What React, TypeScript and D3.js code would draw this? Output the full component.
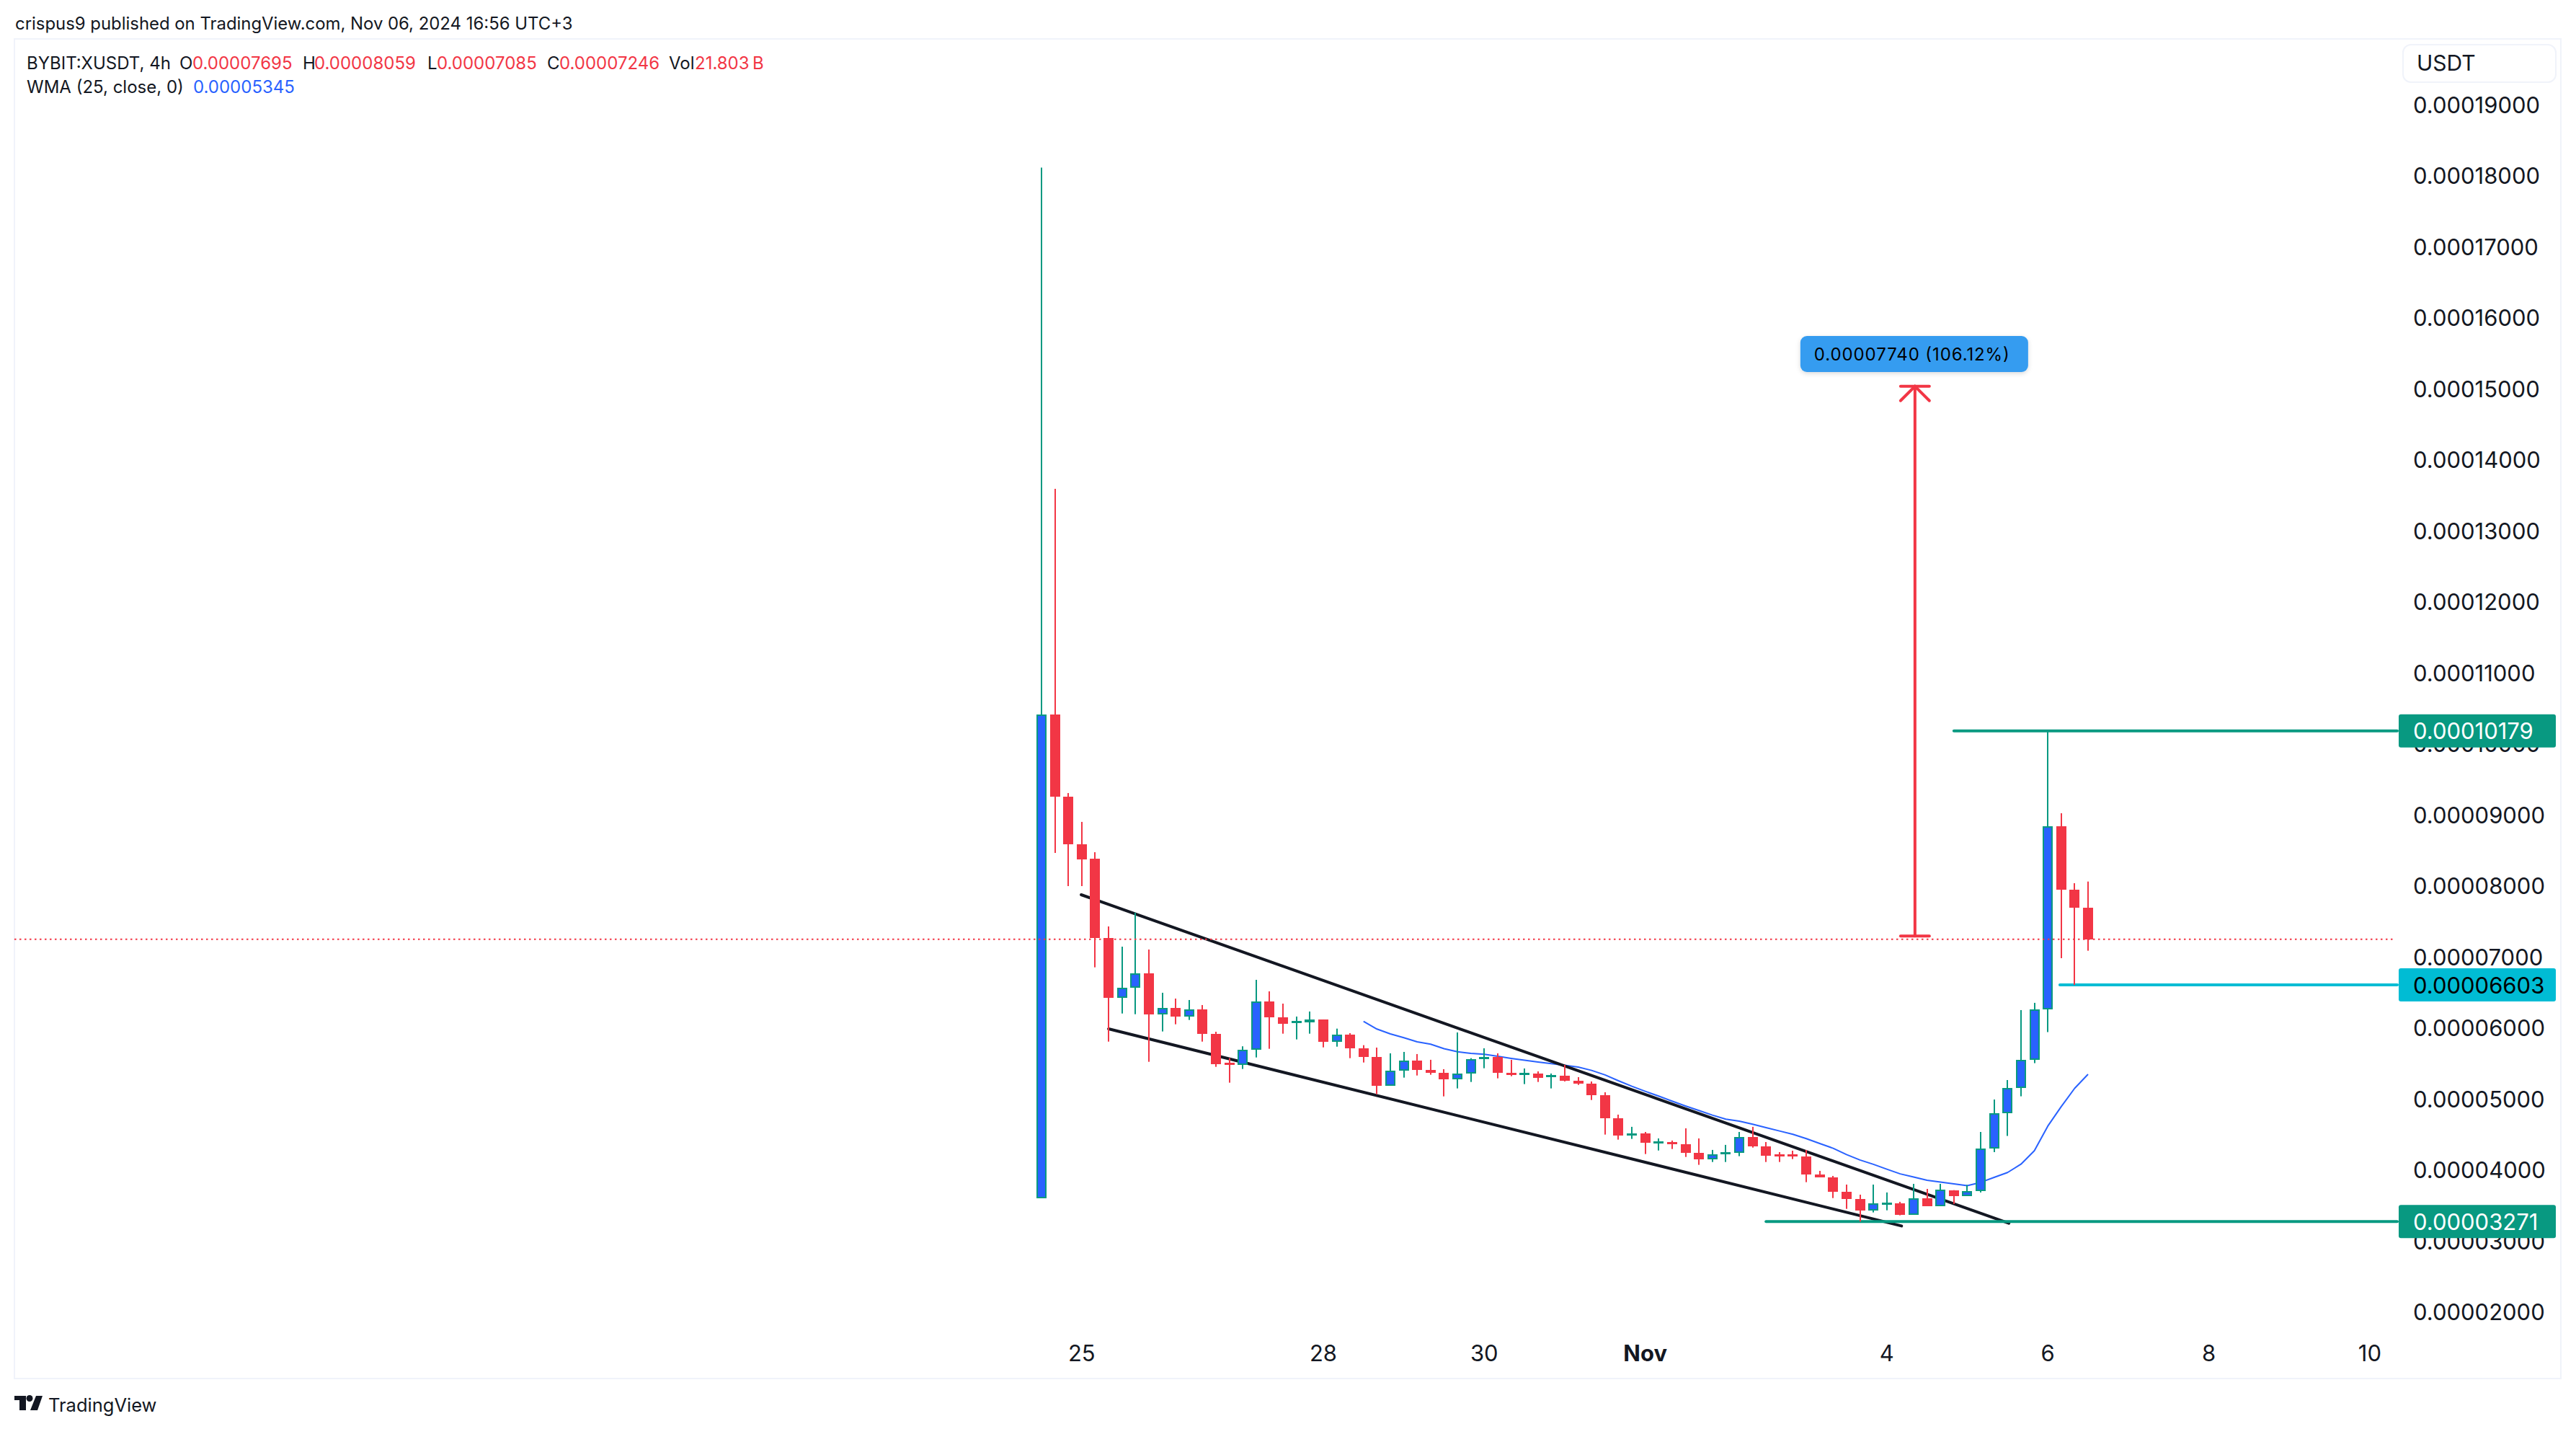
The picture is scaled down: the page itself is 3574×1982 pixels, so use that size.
import React from "react";
import * as d3 from "d3";

// All prices in units of 1e-5 USDT
const PRICE_UNIT = 1e-5;
const opens = [3.599,10.411,9.254,8.584,8.381,7.267,6.425,6.564,6.767,6.191,6.280,6.161,6.259,5.917,5.508,5.474,5.688,6.368,6.151,6.080,6.080,6.117,5.805,5.901,5.714,5.592,5.186,5.400,5.536,5.410,5.369,5.278,5.353,5.556,5.589,5.369,5.349,5.356,5.318,5.325,5.258,5.217,5.054,4.729,4.486,4.513,4.384,4.391,4.364,4.242,4.151,4.216,4.242,4.459,4.334,4.219,4.219,4.188,3.938,3.897,3.694,3.592,3.430,3.521,3.526,3.369,3.596,3.491,3.714,3.631,3.704,4.302,4.802,5.157,5.550,6.254,8.834,7.940,7.695];
const closes = [10.411,9.254,8.584,8.371,7.267,6.425,6.564,6.767,6.191,6.280,6.161,6.259,5.917,5.491,5.491,5.688,6.368,6.151,6.059,6.097,6.117,5.805,5.901,5.714,5.592,5.186,5.400,5.536,5.410,5.369,5.278,5.353,5.556,5.589,5.369,5.349,5.366,5.298,5.336,5.258,5.217,5.054,4.729,4.486,4.513,4.384,4.401,4.364,4.242,4.151,4.216,4.249,4.459,4.334,4.202,4.202,4.202,3.938,3.897,3.694,3.592,3.430,3.526,3.539,3.369,3.596,3.491,3.718,3.631,3.704,4.302,4.802,5.157,5.550,6.254,8.834,7.940,7.695,7.246];
const highs = [18.112,13.589,9.305,8.899,8.472,7.427,7.142,7.620,7.102,6.493,6.411,6.391,6.320,5.944,5.572,5.739,6.675,6.513,6.340,6.158,6.229,6.117,5.988,5.924,5.755,5.721,5.640,5.660,5.630,5.549,5.417,5.934,5.572,5.711,5.640,5.549,5.427,5.386,5.356,5.478,5.305,5.244,5.092,4.777,4.605,4.533,4.442,4.412,4.584,4.442,4.280,4.351,4.533,4.605,4.391,4.249,4.269,4.280,3.985,3.914,3.792,3.650,3.792,3.681,3.549,3.802,3.731,3.802,3.714,3.787,4.533,4.990,5.264,6.249,6.351,10.179,9.021,8.036,8.059];
const lows = [3.599,8.462,7.995,7.995,6.851,5.805,6.201,6.191,5.521,5.948,6.049,6.110,5.805,5.450,5.227,5.420,5.582,5.704,5.917,5.836,5.917,5.724,5.734,5.572,5.511,5.064,5.186,5.298,5.328,5.339,5.034,5.146,5.237,5.430,5.288,5.318,5.207,5.237,5.146,5.244,5.196,4.983,4.496,4.425,4.435,4.222,4.272,4.293,4.181,4.070,4.110,4.110,4.192,4.313,4.110,4.110,4.151,3.826,3.897,3.602,3.450,3.271,3.400,3.430,3.359,3.369,3.491,3.491,3.519,3.631,3.681,4.249,4.477,5.035,5.502,5.939,6.980,6.603,7.085];
const wmaStart = 24;
const wmaValues = [6.090,5.982,5.914,5.860,5.802,5.769,5.706,5.663,5.640,5.628,5.599,5.569,5.542,5.518,5.495,5.471,5.447,5.400,5.336,5.254,5.176,5.105,5.038,4.967,4.899,4.835,4.770,4.713,4.686,4.642,4.594,4.547,4.500,4.439,4.371,4.303,4.214,4.138,4.077,4.009,3.943,3.898,3.853,3.827,3.802,3.777,3.823,3.894,3.962,4.079,4.269,4.615,4.889,5.147,5.345];

const priceTicks = [19,18,17,16,15,14,13,12,11,10,9,8,7,6,5,4,3,2];
const dayTicks = [
  { index: 3, label: "25", bold: false },
  { index: 21, label: "28", bold: false },
  { index: 33, label: "30", bold: false },
  { index: 45, label: "Nov", bold: true },
  { index: 63, label: "4", bold: false },
  { index: 75, label: "6", bold: false },
  { index: 87, label: "8", bold: false },
  { index: 99, label: "10", bold: false },
];
// [candle index, price] pairs
const upperTrend = [[2.96, 7.873], [72.1, 3.247]];
const lowerTrend = [[5, 5.985], [64.1, 3.209]];
const lastClose = 7.246;
const levels = [
  { from: 68, value: 10.179, text: "0.00010179", color: "#089981", ink: "#ffffff" },
  { from: 75.9, value: 6.603, text: "0.00006603", color: "#00bcd4", ink: "#000000" },
  { from: 54, value: 3.271, text: "0.00003271", color: "#089981", ink: "#ffffff" },
];
const measureIndex = 65.1;
const measureFrom = 7.293;
const measureTo = 15.033;
const measureText = "0.00007740 (106.12%)";

const legendRow = [
  { x: 249, t: "O", c: "#131722" }, { x: 267, t: "0.00007695", c: "#f23645" },
  { x: 420, t: "H", c: "#131722" }, { x: 436, t: "0.00008059", c: "#f23645" },
  { x: 593, t: "L", c: "#131722" }, { x: 606, t: "0.00007085", c: "#f23645" },
  { x: 759, t: "C", c: "#131722" }, { x: 776, t: "0.00007246", c: "#f23645" },
  { x: 928, t: "Vol", c: "#131722" }, { x: 964, t: "21.803\u2009B", c: "#f23645" },
];

const FONT = "Inter, 'Noto Sans', sans-serif";
const INK = "#131722";
const RED = "#f23645";
const GREEN = "#089981";
const BLUE = "#2962ff";
const FRAME = "#f0f3fa";

const x = d3.scaleLinear().domain([0, 78]).range([1445, 2897]);
const y = d3.scaleLinear().domain([19, 2]).range([145, 1819.5]);

const pts = (p: number[][]) => d3.line()(p.map(([i, v]) => [x(i), y(v)] as [number, number])) as string;

export default function App() {
  const wmaPath = d3.line<number>()
    .x((_, i) => x(i + wmaStart))
    .y((v) => y(v))
    .curve(d3.curveLinear)(wmaValues) as string;
  const ax = x(measureIndex);
  const ayTop = y(measureTo);
  const ayBot = y(measureFrom);
  return (
    <svg width={3574} height={1982} style={{ position: "absolute", left: 0, top: 0, display: "block", background: "#fff" }} fontFamily={FONT}>
      <defs>
        <filter id="labelShadow" x="-10%" y="-30%" width="120%" height="170%">
          <feDropShadow dx="0" dy="2" stdDeviation="3" floodColor="#000" floodOpacity="0.15" />
        </filter>
      </defs>
      <text x={21} y={32} dominantBaseline="central" fontSize={23.9} fill={INK}>crispus9 published on TradingView.com, Nov 06, 2024 16:56 UTC+3</text>
      <rect x={20} y={54} width={3533} height={1858} fill="#fff" stroke={FRAME} strokeWidth={2} />

      <text x={37} y={87} dominantBaseline="central" fontSize={24} fill={INK}>BYBIT:XUSDT, 4h</text>
      {legendRow.map((d) => (
        <text key={d.x} x={d.x} y={87} dominantBaseline="central" fontSize={24} fill={d.c}>{d.t}</text>
      ))}
      <text x={37} y={120} dominantBaseline="central" fontSize={24} fill={INK}>WMA (25, close, 0)</text>
      <text x={268} y={120} dominantBaseline="central" fontSize={24} fill={BLUE}>0.00005345</text>

      {/* drawings */}
      <path d={wmaPath} fill="none" stroke={BLUE} strokeWidth={2} strokeLinejoin="round" />
      <path d={pts(upperTrend)} stroke={INK} strokeWidth={4} strokeLinecap="round" fill="none" />
      <path d={pts(lowerTrend)} stroke={INK} strokeWidth={4} strokeLinecap="round" fill="none" />
      {levels.map((l) => (
        <line key={l.text} x1={x(l.from)} x2={3326} y1={y(l.value)} y2={y(l.value)} stroke={l.color} strokeWidth={4} strokeLinecap="round" />
      ))}
      <g stroke={RED} strokeWidth={4} strokeLinecap="round" fill="none">
        <line x1={ax} x2={ax} y1={ayTop} y2={ayBot} />
        <line x1={ax - 20} x2={ax + 20} y1={ayTop} y2={ayTop} />
        <line x1={ax - 20} x2={ax + 20} y1={ayBot} y2={ayBot} />
        <path d={`M${ax - 20} ${ayTop + 20}L${ax} ${ayTop}L${ax + 20} ${ayTop + 20}`} />
      </g>
      <rect x={ax - 159} y={466} width={316} height={50} rx={9} fill="#369cf0" filter="url(#labelShadow)" />
      <text x={ax - 140} y={491} dominantBaseline="central" fontSize={24} fill="#000" textLength={271}>{measureText}</text>

      {/* candles */}
      {opens.map((o, i) => {
        const c = closes[i];
        const up = c >= o;
        const cx = Math.round(x(i));
        const top = Math.round(y(Math.max(o, c)));
        const bot = Math.round(y(Math.min(o, c)));
        const h = Math.max(bot - top, 3);
        const edge = up ? GREEN : RED;
        return (
          <g key={i}>
            <rect x={cx - 1} y={y(highs[i])} width={2} height={y(lows[i]) - y(highs[i])} fill={edge} />
            <rect x={cx - 7} y={top} width={14} height={h} fill={edge} />
            {up && h > 4 && <rect x={cx - 5} y={top + 2} width={10} height={h - 4} fill={BLUE} />}
          </g>
        );
      })}

      <line x1={20} x2={3322} y1={y(lastClose)} y2={y(lastClose)} stroke={RED} strokeWidth={2} strokeDasharray="2.5 4.5" />

      {/* price axis */}
      {priceTicks.map((t) => (
        <text key={t} x={3348} y={y(t)} dominantBaseline="central" fontSize={31} fill={INK}>{(t * PRICE_UNIT).toFixed(8)}</text>
      ))}
      {levels.map((l) => (
        <g key={l.text}>
          <rect x={3328} y={y(l.value) - 23} width={218} height={46} rx={3} fill={l.color} />
          <text x={3348} y={y(l.value)} dominantBaseline="central" fontSize={31} fill={l.ink}>{l.text}</text>
        </g>
      ))}
      <rect x={3334} y={62} width={212} height={52} rx={11} fill="#fff" stroke={FRAME} strokeWidth={2} />
      <text x={3353} y={87} dominantBaseline="central" fontSize={30} fill={INK}>USDT</text>

      {/* time axis */}
      {dayTicks.map((t) => (
        <text key={t.label} x={x(t.index)} y={1876} textAnchor="middle" dominantBaseline="central" fontSize={31} fontWeight={t.bold ? 700 : 400} fill={INK}>{t.label}</text>
      ))}

      {/* branding */}
      <path d="M20 1936H36V1956H27V1942H20Z" fill={INK} />
      <circle cx={41} cy={1939.5} r={4.5} fill={INK} />
      <path d="M50 1936H59L52 1956H42Z" fill={INK} />
      <text x={67} y={1948} dominantBaseline="central" fontSize={25.5} fill={INK}>TradingView</text>
    </svg>
  );
}
